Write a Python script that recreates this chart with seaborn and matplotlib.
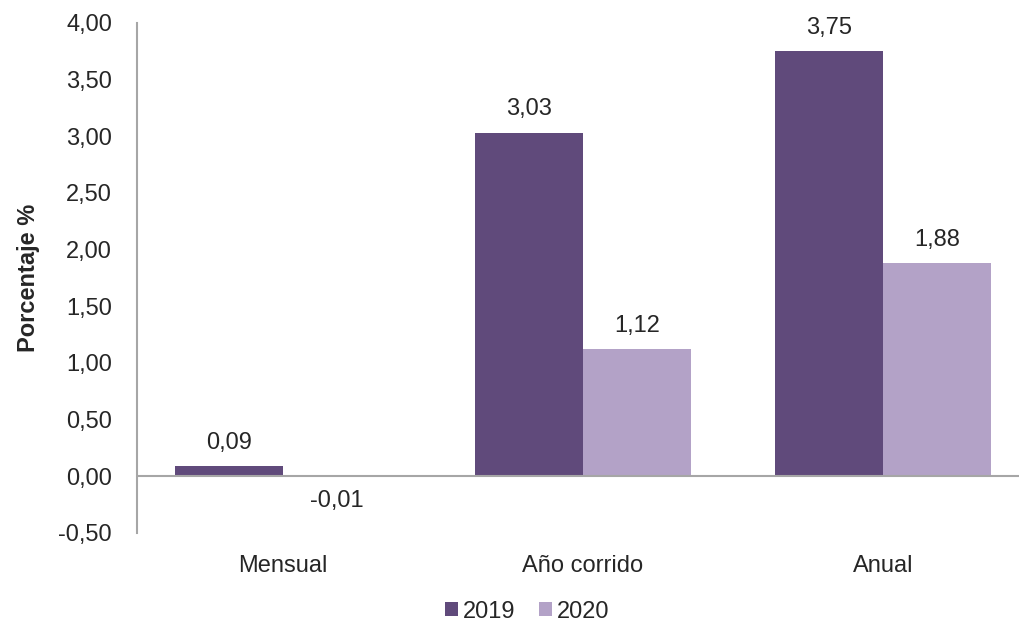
import matplotlib
matplotlib.use("Agg")
import matplotlib.pyplot as plt
import seaborn as sns
import pandas as pd
from matplotlib.ticker import FuncFormatter, MultipleLocator

# Data
periods = ["Mensual", "Año corrido", "Anual"]
values_2019 = [0.09, 3.03, 3.75]
values_2020 = [-0.01, 1.12, 1.88]
years = ["2019", "2020"]

df = pd.DataFrame({
    "Periodo": periods * 2,
    "Valor": values_2019 + values_2020,
    "Año": [years[0]] * len(periods) + [years[1]] * len(periods),
})

palette = {"2019": "#604a7b", "2020": "#b3a2c7"}

sns.set_style("white")
plt.rcParams['font.family'] = ['Liberation Sans', 'DejaVu Sans']

fig = plt.figure(figsize=(10.2, 6.25), dpi=100)
ax = fig.add_axes([0.1343, 0.1472, 0.8657, 0.816])

sns.barplot(data=df, x="Periodo", y="Valor", hue="Año", palette=palette,
            width=0.72, linewidth=0, saturation=1, ax=ax, legend=True)

fmt = lambda v: f"{v:.2f}".replace(".", ",")
for cont, vals in zip(ax.containers, [values_2019, values_2020]):
    labels = [fmt(v) for v in vals]
    ax.bar_label(cont, labels=labels, padding=9, fontsize=17)

ax.set_ylim(-0.5, 4.0)
ax.set_xlim(-0.487, 2.457)
ax.yaxis.set_major_locator(MultipleLocator(0.5))
ax.yaxis.set_major_formatter(FuncFormatter(lambda v, p: fmt(v)))
ax.axhline(0, color="#a6a6a6", linewidth=1.5, zorder=3)

for s in ["top", "right", "bottom"]:
    ax.spines[s].set_visible(False)
ax.spines["left"].set_color("#a6a6a6")
ax.spines["left"].set_linewidth(1.5)

ax.tick_params(axis="y", length=0, pad=18, labelsize=17)
ax.tick_params(axis="x", length=0, pad=16, labelsize=17)
ax.set_xlabel("")
ax.set_ylabel("Porcentaje %", fontsize=17, fontweight="bold")
ax.yaxis.set_label_coords(-0.11, 0.5)

handles, labels = ax.get_legend_handles_labels()
ax.get_legend().remove()
fig.legend(handles, labels, loc="lower center", bbox_to_anchor=(0.517, -0.03),
           ncol=2, frameon=False, fontsize=17, handlelength=0.55,
           handleheight=0.55, handletextpad=0.2, columnspacing=1.0)

fig.savefig("out.png", dpi=100)
